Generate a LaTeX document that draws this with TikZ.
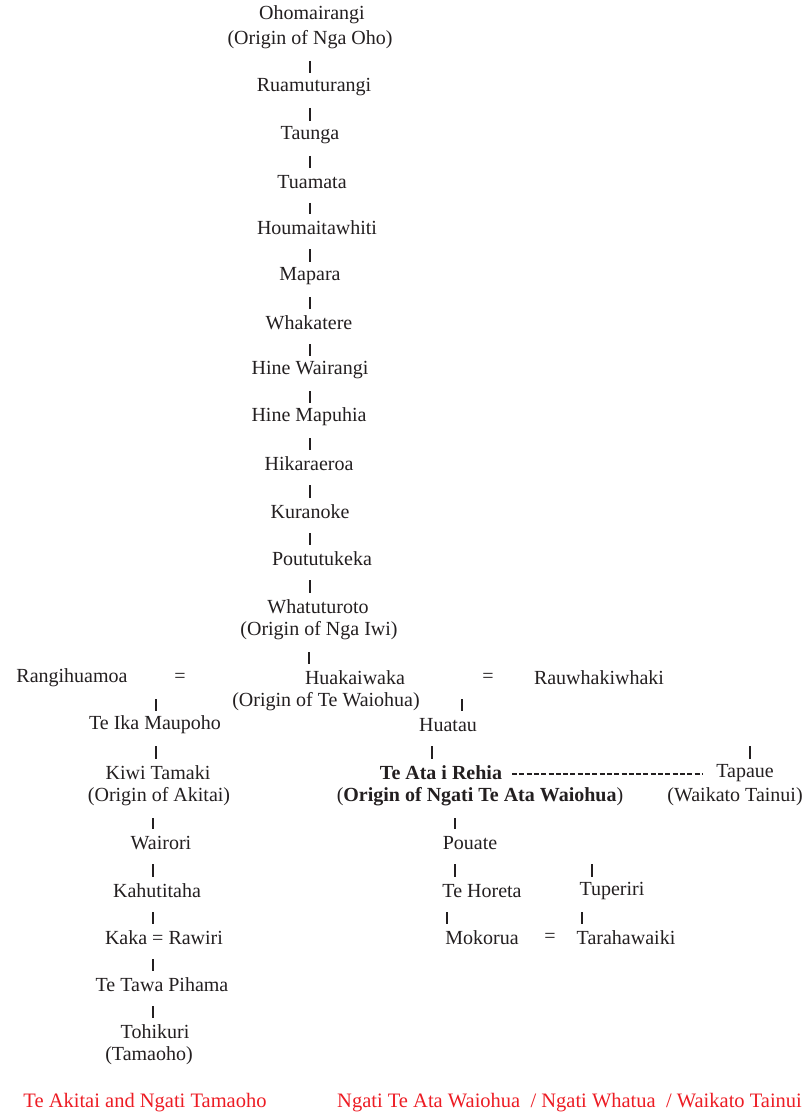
\documentclass[tikz,border=0pt]{standalone}
\usepackage{fontspec}
\setmainfont{Liberation Serif}
\usetikzlibrary{calc}
\definecolor{ink}{RGB}{35,31,32}
\definecolor{redtxt}{RGB}{237,28,36}
\newcommand\kbar[3]{\draw[bar] let \p1=(#1), \p2=(#2) in (#3,\y1-21pt) -- (#3,\y2+14pt);}
\begin{document}
\begin{tikzpicture}[x=1pt,y=-1pt,
  lbl/.style={font=\fontsize{20}{24}\selectfont, text=ink, inner sep=0pt},
  boldlbl/.style={lbl, font=\fontsize{20}{24}\selectfont\bfseries},
  redlbl/.style={lbl, font=\fontsize{20.5}{24}\selectfont, text=redtxt},
  bar/.style={draw=ink, line width=1.2pt},
  dashline/.style={draw=ink, line width=1.8pt, dash pattern=on 5pt off 2.3pt}]
\fill[white] (0,0) rectangle (811,1115);
\useasboundingbox (0,0) rectangle (811,1115);
% centre column
\node[lbl] (ohom)   at (312,15)  {Ohomairangi};
\node[lbl] (ohomo)  at (310,40)  {(Origin of Nga Oho)};
\node[lbl] (rua)    at (314,87)  {Ruamuturangi};
\node[lbl] (taunga) at (310,135) {Taunga};
\node[lbl] (tuam)   at (312,182) {Tuamata};
\node[lbl] (houm)   at (317,228) {Houmaitawhiti};
\node[lbl] (mapara) at (310,276) {Mapara};
\node[lbl] (whak)   at (309,323) {Whakatere};
\node[lbl] (hinew)  at (310,370) {Hine Wairangi};
\node[lbl] (hinem)  at (309,417) {Hine Mapuhia};
\node[lbl] (hika)   at (309,464) {Hikaraeroa};
\node[lbl] (kura)   at (310,512) {Kuranoke};
\node[lbl] (pout)   at (322,559) {Poututukeka};
\node[lbl] (whatu)  at (318,607) {Whatuturoto};
\node[lbl] (whatuo) at (319,631) {(Origin of Nga Iwi)};
% Huakaiwaka row
\node[lbl] (rang)  at (72,678)  {Rangihuamoa};
\node[lbl] (eqa)   at (180,678) {=};
\node[lbl] (huak)  at (355,678) {Huakaiwaka};
\node[lbl] (eqb)   at (488,678) {=};
\node[lbl] (rauw)  at (599,678) {Rauwhakiwhaki};
\node[lbl] (huako) at (326,702) {(Origin of Te Waiohua)};
% next generations
\node[lbl] (teika)  at (155,725) {Te Ika Maupoho};
\node[lbl] (huatau) at (448,725) {Huatau};
\node[lbl] (kiwi)   at (158,773) {Kiwi Tamaki};
\node[boldlbl] (teata) at (441,773) {Te Ata i Rehia};
\node[lbl] (tapaue) at (745,773) {Tapaue};
\node[lbl] (akitai) at (159,797) {(Origin of Akitai)};
\node[lbl] (ngatio) at (480,797) {(\textbf{Origin of Ngati Te Ata Waiohua})};
\node[lbl] (waikato) at (735,797) {(Waikato Tainui)};
\node[lbl] (wairori) at (161,843) {Wairori};
\node[lbl] (pouate)  at (470,843) {Pouate};
\node[lbl] (kahu)    at (157,891) {Kahutitaha};
\node[lbl] (horeta)  at (482,891) {Te Horeta};
\node[lbl] (tuperiri) at (612,891) {Tuperiri};
\node[lbl] (kaka)    at (164,938) {Kaka = Rawiri};
\node[lbl] (mokorua) at (482,938) {Mokorua};
\node[lbl] (eqc)     at (550,938) {=};
\node[lbl] (tara)    at (626,938) {Tarahawaiki};
\node[lbl] (tawa)    at (162,985) {Te Tawa Pihama};
\node[lbl] (tohi)    at (155,1032) {Tohikuri};
\node[lbl] (tama)    at (149,1056) {(Tamaoho)};
% red captions
\node[redlbl] (capl) at (145,1103) {Te Akitai and Ngati Tamaoho};
\node[redlbl, anchor=west] (capr) at (337,1103) {Ngati Te Ata Waiohua\ \ / Ngati Whatua\ \ / Waikato Tainui};
% free upper ends
\coordinate (tapup) at (750,725);
\coordinate (tupup) at (592,843);
% bars
\kbar{ohomo}{rua}{310}
\kbar{rua}{taunga}{310}
\kbar{taunga}{tuam}{310}
\kbar{tuam}{houm}{310}
\kbar{houm}{mapara}{310}
\kbar{mapara}{whak}{310}
\kbar{whak}{hinew}{310}
\kbar{hinew}{hinem}{310}
\kbar{hinem}{hika}{310}
\kbar{hika}{kura}{310}
\kbar{kura}{pout}{310}
\kbar{pout}{whatu}{310}
\kbar{whatuo}{huak}{309}
\kbar{rang}{teika}{156}
\kbar{huak}{huatau}{462}
\kbar{teika}{kiwi}{156}
\kbar{huatau}{teata}{432}
\kbar{tapup}{tapaue}{750}
\kbar{akitai}{wairori}{153}
\kbar{ngatio}{pouate}{455}
\kbar{wairori}{kahu}{153}
\kbar{pouate}{horeta}{455}
\kbar{tupup}{tuperiri}{592}
\kbar{kahu}{kaka}{153}
\kbar{horeta}{mokorua}{447}
\kbar{tuperiri}{tara}{582}
\kbar{kaka}{tawa}{153}
\kbar{tawa}{tohi}{153}
% dashed link
\draw[dashline] let \p1=(teata.east), \p2=(tapaue.west) in (512,\y1-1pt) -- (702,\y1-1pt);
\end{tikzpicture}
\end{document}
